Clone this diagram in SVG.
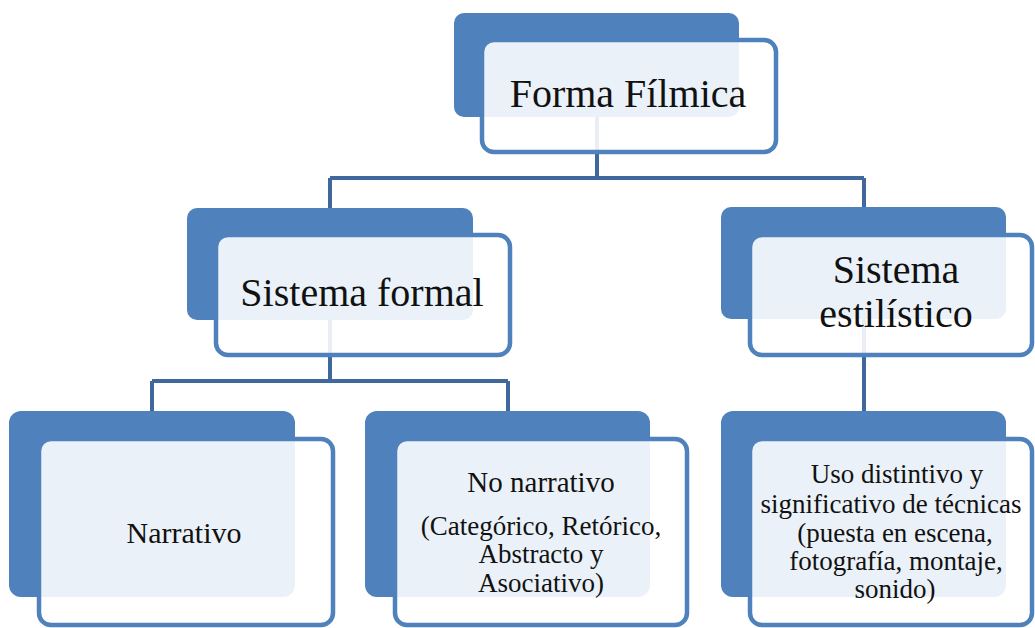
<svg xmlns="http://www.w3.org/2000/svg" width="1035" height="628" viewBox="0 0 1035 628">
  <style>
    .back { fill: #4F81BD; }
    .front { fill: #FFFFFF; fill-opacity: 0.89; stroke: #4F81BD; stroke-width: 4.5; }
    .conn { fill: none; stroke: #41689C; stroke-width: 4; }
    .t1 { font-family: "Liberation Serif", "DejaVu Serif", serif; font-size: 40px; fill: #111111; text-anchor: middle; }
    .t2 { font-family: "Liberation Serif", "DejaVu Serif", serif; font-size: 27px; fill: #111111; text-anchor: middle; }
  </style>
  <rect width="1035" height="628" fill="#FFFFFF"/>
  <g id="connectors">
    <path class="conn" d="M597 117 V178 M330 178 H864 M330 178 V208 M864 178 V208"/>
    <path class="conn" d="M330 320 V381 M152 381 H508 M152 381 V411 M508 381 V411"/>
    <path class="conn" d="M864 319 V411"/>
  </g>
  <g id="node-forma-filmica">
    <rect class="back" x="454" y="13" width="285" height="104" rx="10"/>
    <rect class="front" x="482" y="40" width="294" height="112" rx="12"/>
    <text class="t1" x="628" y="107">Forma Fílmica</text>
  </g>
  <g id="node-sistema-formal">
    <rect class="back" x="187" y="208" width="286" height="112" rx="10"/>
    <rect class="front" x="216" y="235" width="294" height="120" rx="12"/>
    <text class="t1" x="362" y="306">Sistema formal</text>
  </g>
  <g id="node-sistema-estilistico">
    <rect class="back" x="721" y="207" width="285" height="112" rx="10"/>
    <rect class="front" x="750" y="235" width="282" height="120" rx="12"/>
    <text class="t1" x="896" y="283">Sistema</text>
    <text class="t1" x="896" y="327">estilístico</text>
  </g>
  <g id="node-narrativo">
    <rect class="back" x="9" y="411" width="286" height="186" rx="12"/>
    <rect class="front" x="39" y="439" width="294" height="186" rx="12"/>
    <text class="t2" x="184" y="543" style="font-size:30px">Narrativo</text>
  </g>
  <g id="node-no-narrativo">
    <rect class="back" x="365" y="411" width="285" height="186" rx="12"/>
    <rect class="front" x="395" y="439" width="292" height="186" rx="12"/>
    <text class="t2" x="541" y="492" style="font-size:29px">No narrativo</text>
    <text class="t2" x="541" y="535">(Categórico, Retórico,</text>
    <text class="t2" x="541" y="563">Abstracto y</text>
    <text class="t2" x="541" y="592">Asociativo)</text>
  </g>
  <g id="node-uso-distintivo">
    <rect class="back" x="721" y="411" width="285" height="186" rx="12"/>
    <rect class="front" x="750" y="439" width="282" height="186" rx="12"/>
    <text class="t2" x="897" y="483">Uso distintivo y</text>
    <text class="t2" x="891" y="513">significativo de técnicas</text>
    <text class="t2" x="895" y="542">(puesta en escena,</text>
    <text class="t2" x="896" y="570">fotografía, montaje,</text>
    <text class="t2" x="895" y="598">sonido)</text>
  </g>
</svg>
